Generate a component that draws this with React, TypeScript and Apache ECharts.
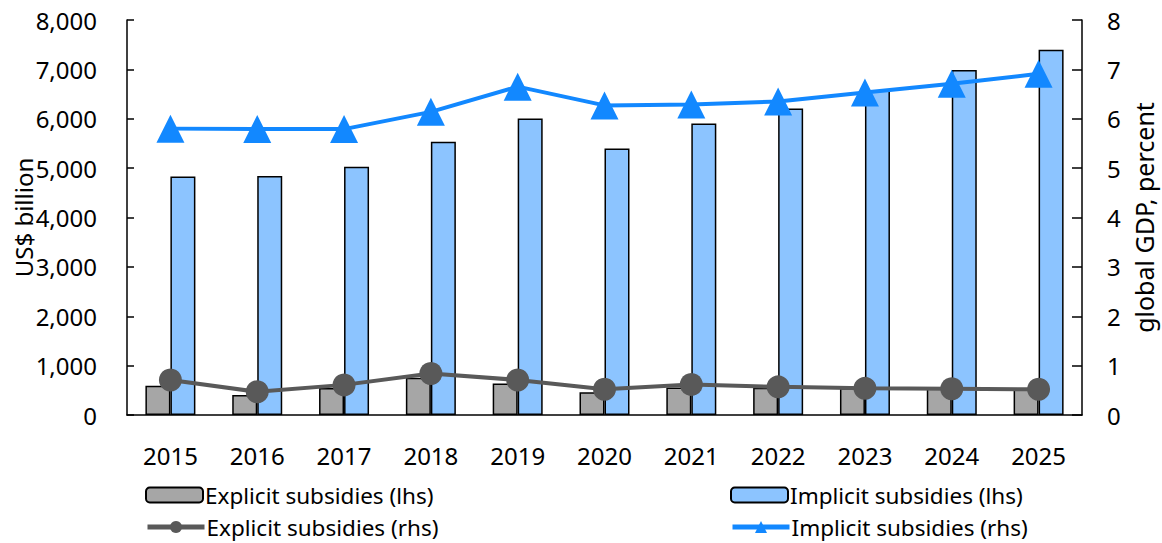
import React, { useEffect, useRef } from "react";
import * as echarts from "echarts";

const years = ["2015", "2016", "2017", "2018", "2019", "2020", "2021", "2022", "2023", "2024", "2025"];
const explicitLhs = [590, 405, 545, 755, 640, 460, 555, 550, 545, 540, 545];
const implicitLhs = [4830, 4840, 5030, 5535, 6005, 5400, 5905, 6210, 6580, 6985, 7400];
const explicitRhs = [0.71, 0.47, 0.61, 0.84, 0.71, 0.52, 0.62, 0.57, 0.54, 0.53, 0.52];
const implicitRhs = [5.8, 5.79, 5.79, 6.14, 6.65, 6.27, 6.29, 6.35, 6.53, 6.71, 6.91];

const FONT = "'Noto Sans', 'Open Sans', sans-serif";

export default function App() {
  const ref = useRef<HTMLDivElement>(null);
  useEffect(() => {
    if (!ref.current) return;
    const chart = echarts.init(ref.current, undefined, { renderer: "svg" });
    const axisLabel = { color: "#000", fontSize: 24, fontFamily: FONT };
    const legendText = { fontSize: 22.5, lineHeight: 26, color: "#000", fontFamily: FONT, padding: [0, 0, 0, -3] };
    const mkLegend = (name: string, left: number, top: number) => ({
      left,
      top,
      orient: "horizontal",
      itemWidth: 57,
      itemHeight: 15,
      padding: 0,
      textStyle: legendText,
      lineStyle: { width: 5 },
      data: [name],
    });
    chart.setOption({
      animation: false,
      textStyle: { fontFamily: FONT },
      grid: { left: 127, right: 80, top: 20, bottom: 128, containLabel: false, outerBoundsMode: "none" },
      legend: [
        mkLegend("Explicit subsidies (lhs)", 145, 482),
        mkLegend("Explicit subsidies (rhs)", 145, 514),
        mkLegend("Implicit subsidies (lhs)", 730, 482),
        mkLegend("Implicit subsidies (rhs)", 730, 514),
      ],
      xAxis: {
        type: "category",
        data: years,
        axisLine: { lineStyle: { color: "#000", width: 1.5 } },
        axisTick: { show: false },
        axisLabel: { ...axisLabel, margin: 28 },
      },
      yAxis: [
        {
          type: "value",
          min: 0,
          max: 8000,
          interval: 1000,
          name: "US$ billion",
          nameLocation: "middle",
          nameGap: 92,
          nameMoveOverlap: false,
          nameTextStyle: { fontSize: 24, color: "#000", fontFamily: FONT },
          axisLine: { show: true, lineStyle: { color: "#000", width: 1.5 } },
          axisTick: { show: true, inside: true, length: 7, lineStyle: { color: "#000", width: 1.5 } },
          splitLine: { show: false },
          axisLabel: {
            ...axisLabel,
            margin: 30,
            formatter: (v: number) => v.toLocaleString("en-US"),
          },
        },
        {
          type: "value",
          min: 0,
          max: 8,
          interval: 1,
          name: "global GDP, percent",
          nameLocation: "middle",
          nameGap: 46,
          nameRotate: 90,
          nameTextStyle: { fontSize: 25, color: "#000", fontFamily: FONT },
          axisLine: { show: true, lineStyle: { color: "#000", width: 1.5 } },
          axisTick: { show: true, inside: true, length: 10, lineStyle: { color: "#000", width: 1.5 } },
          splitLine: { show: false },
          axisLabel: { ...axisLabel, margin: 25 },
        },
      ],
      series: [
        {
          name: "Explicit subsidies (lhs)",
          type: "bar",
          yAxisIndex: 0,
          data: explicitLhs,
          barWidth: 25,
          barGap: "0%",
          itemStyle: { color: "#a6a6a6", borderColor: "#000", borderWidth: 1.5 },
        },
        {
          name: "Implicit subsidies (lhs)",
          type: "bar",
          yAxisIndex: 0,
          data: implicitLhs,
          barWidth: 25,
          barGap: "0%",
          itemStyle: { color: "#8cc4ff", borderColor: "#000", borderWidth: 1.5 },
        },
        {
          name: "Explicit subsidies (rhs)",
          type: "line",
          yAxisIndex: 1,
          data: explicitRhs,
          symbol: "circle",
          symbolSize: 23,
          lineStyle: { color: "#595959", width: 4 },
          itemStyle: { color: "#595959" },
          z: 5,
        },
        {
          name: "Implicit subsidies (rhs)",
          type: "line",
          yAxisIndex: 1,
          data: implicitRhs,
          symbol: "triangle",
          symbolSize: [28, 28],
          lineStyle: { color: "#1288ff", width: 4 },
          itemStyle: { color: "#1288ff" },
          z: 5,
        },
      ],
    });
    return () => chart.dispose();
  }, []);
  return <div ref={ref} style={{ width: 1162, height: 543, position: "absolute", left: 0, top: 0 }} />;
}
